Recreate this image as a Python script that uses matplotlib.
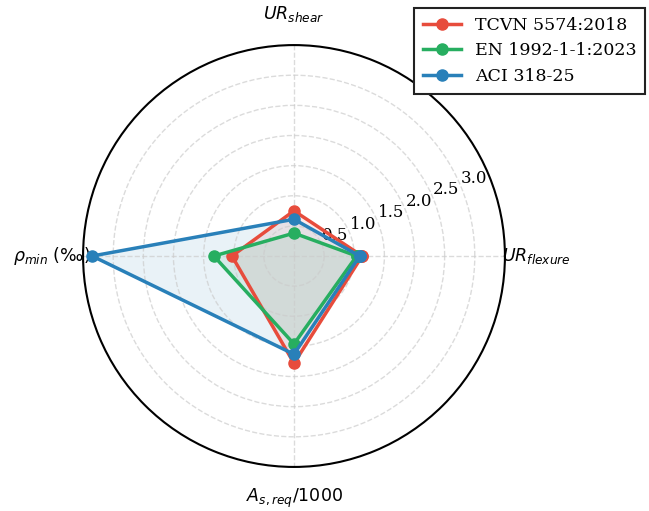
import numpy as np
import matplotlib
matplotlib.use("Agg")
import matplotlib.pyplot as plt

plt.rcParams['font.family'] = 'DejaVu Serif'
plt.rcParams['mathtext.fontset'] = 'dejavusans'

# criteria around the radar, counter-clockwise from the right
criteria = [r'$UR_{flexure}$', r'$UR_{shear}$', r'$\rho_{min}$ (‰)', r'$A_{s,req}/1000$']

codes = ['TCVN 5574:2018', 'EN 1992-1-1:2023', 'ACI 318-25']
tcvn = [1.13, 0.75, 1.03, 1.78]
en = [1.04, 0.38, 1.33, 1.46]
aci = [1.09, 0.61, 3.35, 1.63]
colors = ['#e74c3c', '#27ae60', '#2980b9']

r_ticks = [0.5, 1.0, 1.5, 2.0, 2.5, 3.0]
r_max = 3.5

angles = np.linspace(0, 2 * np.pi, len(criteria), endpoint=False)
closed = np.append(angles, angles[0])

fig = plt.figure(figsize=(6.49, 5.11), dpi=100)
ax = fig.add_axes([0.128, 0.086, 0.650, 0.826], projection='polar')

for name, vals, c in zip(codes, [tcvn, en, aci], colors):
    v = np.append(vals, vals[0])
    ax.plot(closed, v, '-o', color=c, lw=2.5, ms=8, label=name)
    ax.fill(closed, v, color=c, alpha=0.1)

ax.set_ylim(0, r_max)
ax.set_yticks(r_ticks)
ax.set_yticklabels([f'{t:.1f}' for t in r_ticks], fontsize=12)
ax.set_rlabel_position(22.5)

ax.set_xticks(angles)
ax.set_xticklabels(criteria, fontsize=12.5, fontfamily='DejaVu Sans')
ax.tick_params(axis='x', pad=12)

ax.grid(True, linestyle='--', color='#cccccc', alpha=0.7, lw=1)
ax.spines['polar'].set_linewidth(1.5)
ax.spines['polar'].set_color('black')

leg = ax.legend(loc='upper right', bbox_to_anchor=(645 / 649, 1 - 8 / 511),
                bbox_transform=fig.transFigure, borderaxespad=0, fontsize=12.5,
                fancybox=False, edgecolor='#222222', framealpha=1,
                handlelength=2.2, borderpad=0.5, labelspacing=0.5)
leg.get_frame().set_linewidth(1.5)

fig.savefig('out.png', dpi=100)
